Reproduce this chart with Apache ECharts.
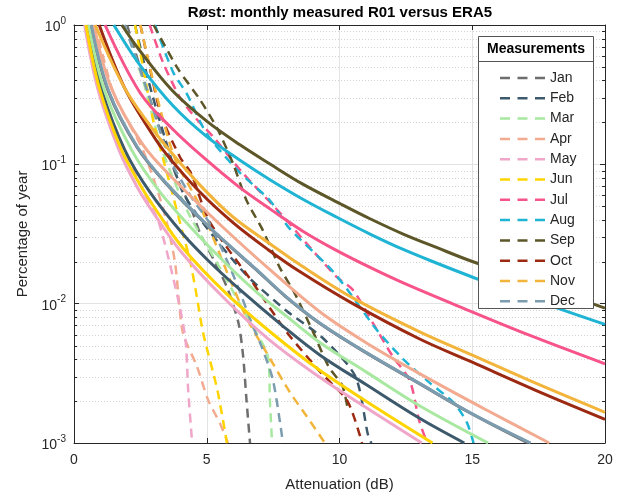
<!DOCTYPE html>
<html><head><meta charset="utf-8">
<script src="https://cdn.jsdelivr.net/npm/echarts@6/dist/echarts.min.js"></script>
<style>html,body{margin:0;padding:0;background:#fff}#c{width:633px;height:497px}</style>
</head><body><div id="c"></div>
<script>
const FONT = '"Liberation Sans", Arial, Helvetica, sans-serif';
const months = ['Jan','Feb','Mar','Apr','May','Jun','Jul','Aug','Sep','Oct','Nov','Dec'];
const colors = ['#6e6e6e','#3d5a6c','#a8e8a0','#f2ab90','#f0a6c8','#ffd400','#f7548a','#20b4d4','#5c5628','#9c2a12','#f2b43a','#7c9cb0'];
const xTicks = [0, 5, 10, 15, 20];
const yTicks = [0.001, 0.01, 0.1, 1];
const minorVals = [0.002,0.003,0.004,0.005,0.006,0.007,0.008,0.009,0.02,0.03,0.04,0.05,0.06,0.07,0.08,0.09,0.2,0.3,0.4,0.5,0.6,0.7,0.8,0.9];

// Measured (dashed): [attenuation dB, percentage of year]
const measJan = [[2.0,1],[2.9,0.28],[3.9,0.078],[4.4,0.049],[4.75,0.032],[5.3,0.02],[5.8,0.0126],[6.2,0.0072],[6.37,0.0042],[6.5,0.002],[6.63,0.001]];
const measFeb = [[2.3,1],[2.8,0.4],[3.4,0.16],[4.1,0.063],[5.0,0.035],[6.5,0.016],[8.0,0.0089],[9.4,0.0056],[10.6,0.003],[11.07,0.00115],[11.2,0.001]];
const measMar = [[1.9,1],[2.6,0.4],[3.3,0.13],[4.3,0.045],[5.5,0.018],[6.6,0.0075],[7.3,0.0042],[7.38,0.002],[7.46,0.001]];
const measApr = [[0.8,1],[1.5,0.32],[2.6,0.126],[3.4,0.045],[3.8,0.02],[4.1,0.0062],[4.63,0.00355],[5.05,0.00204],[5.5,0.00138],[5.8,0.001]];
const measMay = [[0.55,1],[1.1,0.32],[1.9,0.126],[2.6,0.065],[3.2,0.038],[3.9,0.0112],[4.2,0.0055],[4.3,0.0024],[4.45,0.001]];
const measJun = [[2.3,1],[2.6,0.5],[3.0,0.2],[3.55,0.08],[4.1,0.032],[4.37,0.0204],[4.6,0.012],[4.86,0.0062],[5.4,0.0024],[5.76,0.001]];
const measJul = [[2.85,1],[3.35,0.54],[4.0,0.30],[4.63,0.21],[5.24,0.158],[6.3,0.089],[7.57,0.049],[8.1,0.038],[8.62,0.029],[9.9,0.0155],[10.5,0.0126],[11.27,0.0072],[12.0,0.0042],[12.65,0.0028],[13.0,0.00145],[13.3,0.001]];
const measAug = [[3.05,1],[3.73,0.46],[4.25,0.32],[5.0,0.166],[6.2,0.089],[7.38,0.055],[8.1,0.035],[9.64,0.018],[10.3,0.0126],[11.4,0.0065],[12.4,0.004],[13.4,0.0027],[14.3,0.00195],[14.8,0.0014],[15.05,0.001]];
const measSep = [[3.0,1],[3.9,0.49],[4.75,0.29],[5.4,0.18],[6.0,0.1],[6.5,0.055],[7.1,0.034],[7.76,0.018],[8.3,0.012],[9.0,0.0063],[9.6,0.0035],[10.1,0.0026],[10.3,0.0018]];
const measOct = [[2.5,1],[2.9,0.45],[3.3,0.22],[4.0,0.112],[4.4,0.087],[5.1,0.039],[6.75,0.014],[8.0,0.0063],[9.3,0.0032],[10.3,0.002],[10.85,0.001]];
const measNov = [[2.5,1],[3.1,0.32],[3.8,0.11],[4.75,0.05],[5.7,0.018],[6.5,0.0079],[7.27,0.0044],[8.14,0.0023],[8.77,0.00155],[9.45,0.001]];
const measDec = [[1.9,1],[2.8,0.32],[3.6,0.11],[4.5,0.055],[5.1,0.038],[6.0,0.016],[6.75,0.0068],[7.07,0.0049],[7.5,0.0028],[7.87,0.001]];

// ERA5 (solid)
const era5Jan = [[0.63,1],[1.28,0.339],[2.38,0.132],[3.48,0.0724],[5.08,0.0355],[6.88,0.0174],[7.98,0.0112],[9.25,0.00724],[10.98,0.00447],[12.98,0.00269],[14.98,0.00162],[17.1,0.001]];
const era5Feb = [[0.5,1],[1.05,0.339],[1.92,0.126],[2.86,0.0631],[4.1,0.0316],[5.1,0.02],[6.25,0.0126],[7.8,0.00708],[9.27,0.00427],[11.0,0.00263],[13.0,0.00151],[14.7,0.001]];
const era5Mar = [[0.55,1],[1.15,0.339],[2.18,0.126],[3.24,0.0631],[4.48,0.0339],[5.76,0.0191],[6.9,0.012],[8.0,0.00813],[9.27,0.00525],[11.0,0.00324],[13.0,0.00186],[15.6,0.001]];
const era5Apr = [[0.75,1],[1.4,0.355],[2.6,0.138],[3.88,0.0741],[5.6,0.0355],[7.4,0.0174],[9.27,0.00871],[11.0,0.00525],[13.0,0.00316],[15.5,0.00174],[17.9,0.001]];
const era5May = [[0.4,1],[0.9,0.347],[1.7,0.126],[2.4,0.0676],[3.0,0.0447],[4.0,0.024],[5.6,0.0112],[7.3,0.00562],[9.27,0.00295],[11.2,0.0017],[13.1,0.001]];
const era5Jun = [[0.45,1],[0.95,0.355],[1.75,0.132],[2.5,0.0708],[3.1,0.0468],[4.1,0.0251],[5.76,0.0117],[7.5,0.00603],[9.27,0.00331],[11.4,0.00178],[13.5,0.001]];
const era5Jul = [[1.17,1],[2.5,0.324],[3.73,0.178],[5.0,0.107],[6.2,0.0692],[7.38,0.0479],[8.62,0.0331],[9.9,0.024],[11.15,0.0182],[12.4,0.0141],[14.65,0.0093],[17.2,0.00589],[20,0.0037]];
const era5Aug = [[1.5,1],[2.49,0.513],[3.73,0.263],[5.0,0.158],[6.25,0.107],[7.38,0.0776],[8.62,0.0562],[9.9,0.0417],[11.15,0.0316],[12.4,0.0245],[13.67,0.0195],[14.9,0.0158],[17.0,0.0112],[20,0.0071]];
const era5Sep = [[1.8,1],[2.5,0.646],[3.7,0.339],[5.0,0.204],[6.25,0.138],[7.4,0.1],[8.6,0.0724],[10,0.0525],[11.15,0.0407],[12.4,0.0316],[13.7,0.0251],[14.9,0.0204],[17,0.0148],[18.5,0.0117],[20,0.0093]];
const era5Oct = [[0.95,1],[1.9,0.355],[2.9,0.17],[3.5,0.117],[4.75,0.063],[6.0,0.038],[7.3,0.0245],[8.5,0.017],[10.5,0.01],[13,0.0056],[15,0.0038],[17.5,0.00234],[20,0.00148]];
const era5Nov = [[0.8,1],[1.9,0.355],[2.9,0.186],[3.6,0.126],[4.8,0.0692],[6.0,0.0417],[7.38,0.0269],[8.5,0.0191],[10.5,0.011],[13,0.0063],[15,0.00427],[17.5,0.00263],[20,0.00166]];
const era5Dec = [[0.65,1],[1.3,0.339],[2.4,0.132],[3.5,0.0724],[5.1,0.0355],[6.9,0.0174],[8.0,0.0112],[9.27,0.00724],[11.0,0.00447],[13.0,0.00269],[15.0,0.00162],[17.2,0.001]];

const measured = [measJan,measFeb,measMar,measApr,measMay,measJun,measJul,measAug,measSep,measOct,measNov,measDec];
const era5 = [era5Jan,era5Feb,era5Mar,era5Apr,era5May,era5Jun,era5Jul,era5Aug,era5Sep,era5Oct,era5Nov,era5Dec];

const xMin = xTicks[0], xMax = xTicks[xTicks.length-1];
const yMin = yTicks[0], yMax = yTicks[yTicks.length-1];
const AX = '#262626';

const series = [];
series.push({
  type:'custom', silent:true, z:1, clip:false,
  data: minorVals.map(v => [xMin, v]),
  renderItem: (params, api) => {
    const v = api.value(1);
    const p0 = api.coord([xMin, v]), p1 = api.coord([xMax, v]);
    const y = Math.round(p0[1]) + 0.5;
    return {type:'group', children:[
      {type:'line', shape:{x1:p0[0], y1:y, x2:p1[0], y2:y}, style:{stroke:'#d4d4d4', lineWidth:1, lineDash:[1,2]}},
      {type:'line', shape:{x1:p0[0], y1:y, x2:p0[0]+3, y2:y}, style:{stroke:AX, lineWidth:1}},
      {type:'line', shape:{x1:p1[0]-3, y1:y, x2:p1[0], y2:y}, style:{stroke:AX, lineWidth:1}}
    ]};
  }
});
months.forEach((m, i) => series.push({
  name:m, type:'line', data:measured[i], symbol:'none', showSymbol:false, smooth:0.25,
  lineStyle:{color:colors[i], width:2.5, type:[9,6]}, itemStyle:{color:colors[i]}, z:3, animation:false
}));
months.forEach((m, i) => series.push({
  name:'ERA5 ' + m, type:'line', data:era5[i], symbol:'none', showSymbol:false, smooth:0.35,
  lineStyle:{color:colors[i], width:3}, itemStyle:{color:colors[i]}, z:4, animation:false
}));

const chart = echarts.init(document.getElementById('c'), null, {renderer:'canvas'});
chart.setOption({
  animation:false,
  backgroundColor:'#fff',
  textStyle:{fontFamily:FONT},
  grid:{left:74, right:28, top:25, bottom:54, show:false},
  xAxis:[{
    type:'value', min:xMin, max:xMax, interval:5, position:'bottom',
    axisLine:{show:true, onZero:false, lineStyle:{color:AX, width:1}},
    axisTick:{show:true, inside:true, length:5, lineStyle:{color:AX}},
    splitLine:{show:true, lineStyle:{color:'#e3e3e3', width:1}},
    axisLabel:{color:AX, fontSize:14, margin:10, fontFamily:FONT},
    name:'Attenuation (dB)', nameLocation:'middle', nameGap:34,
    nameTextStyle:{color:AX, fontSize:15, fontFamily:FONT}
  },{
    type:'value', min:xMin, max:xMax, interval:5, position:'top',
    axisLine:{show:true, onZero:false, lineStyle:{color:AX, width:1}},
    axisTick:{show:true, inside:true, length:5, lineStyle:{color:AX}},
    splitLine:{show:false}, axisLabel:{show:false}
  }],
  yAxis:[{
    type:'log', logBase:10, min:yMin, max:yMax, position:'left',
    axisLine:{show:true, onZero:false, lineStyle:{color:AX, width:1}},
    axisTick:{show:true, inside:true, length:5, lineStyle:{color:AX}},
    splitLine:{show:true, lineStyle:{color:'#e3e3e3', width:1}},
    axisLabel:{
      margin:8, color:AX,
      formatter: v => '{b|10}{s|' + Math.round(Math.log10(v)) + '}',
      rich:{
        b:{fontSize:14, color:AX, fontFamily:FONT, lineHeight:18, verticalAlign:'bottom'},
        s:{fontSize:10, color:AX, fontFamily:FONT, lineHeight:18, verticalAlign:'top'}
      }
    },
    name:'Percentage of year', nameLocation:'middle', nameGap:44,
    nameTextStyle:{color:AX, fontSize:15, fontFamily:FONT}
  },{
    type:'log', logBase:10, min:yMin, max:yMax, position:'right',
    axisLine:{show:true, onZero:false, lineStyle:{color:AX, width:1}},
    axisTick:{show:true, inside:true, length:5, lineStyle:{color:AX}},
    splitLine:{show:false}, axisLabel:{show:false}
  }],
  legend:{
    data:months, orient:'vertical', left:495, top:66,
    icon:'path://M0,0H10V2.5H0Z M17.5,0H27.5V2.5H17.5Z M35,0H45V2.5H35Z',
    itemWidth:45, itemHeight:2.5, itemGap:6.3, selectedMode:false, z:20,
    textStyle:{fontSize:14, color:AX, fontFamily:FONT, lineHeight:14}
  },
  graphic:[
    {type:'rect', z:15, shape:{x:478.5, y:36.5, width:115, height:272}, style:{fill:'#fff', stroke:'#555', lineWidth:1}},
    {type:'text', z:16, x:536, y:49, style:{text:'Measurements', fontSize:14, fontWeight:'bold', fontFamily:FONT, fill:'#000', align:'center', verticalAlign:'middle'}},
    {type:'line', z:16, shape:{x1:478.5, y1:61.5, x2:593.5, y2:61.5}, style:{stroke:'#555', lineWidth:1}},
    {type:'text', z:16, x:340, y:13, style:{text:'Røst: monthly measured R01 versus ERA5', fontSize:15, fontWeight:'bold', fontFamily:FONT, fill:'#000', align:'center', verticalAlign:'middle'}}
  ],
  series:series
});
</script></body></html>
